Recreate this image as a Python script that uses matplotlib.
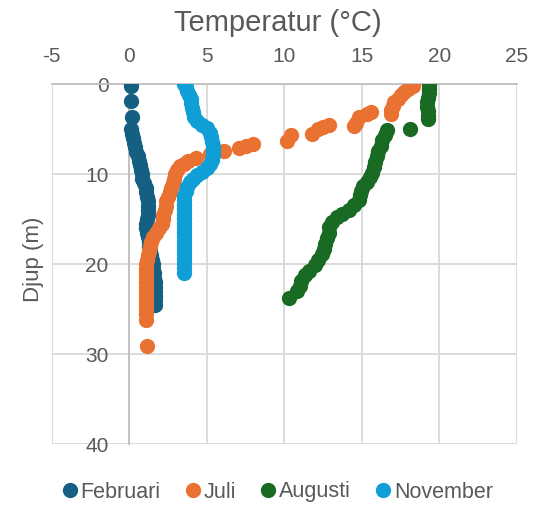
import matplotlib
matplotlib.use("Agg")
import matplotlib.pyplot as plt

plt.rcParams['font.family'] = ['Liberation Sans', 'DejaVu Sans']
plt.rcParams['axes.unicode_minus'] = False

# ---- data (depth m, temperature °C) ----
feb_depth = [0.2, 1.9, 3.6, 5.0, 5.5, 6.0, 6.5, 7.0, 7.5, 8.0, 8.5, 9.0, 9.5, 10.0,
             10.5, 11.0, 11.5, 12.0, 12.5, 13.0, 13.5, 14.0, 14.5, 15.0, 15.5, 16.0,
             16.5, 17.0, 17.5, 18.0, 18.5, 19.0, 19.5, 20.0, 20.5, 21.0, 21.5, 22.0,
             22.5, 23.0, 23.5, 24.0, 24.5]
feb_temp = [0.1, 0.1, 0.15, 0.1, 0.2, 0.25, 0.3, 0.4, 0.45, 0.55, 0.6, 0.7, 0.75, 0.8,
            0.85, 0.95, 1.05, 1.1, 1.15, 1.2, 1.2, 1.2, 1.2, 1.15, 1.1, 1.1,
            1.15, 1.2, 1.25, 1.3, 1.35, 1.4, 1.45, 1.5, 1.55, 1.6, 1.6, 1.65,
            1.65, 1.65, 1.65, 1.65, 1.65]

jul_depth = [0.2, 0.5, 0.8, 1.2, 1.6, 2.0, 2.4, 2.8, 3.3, 3.1, 3.3, 3.6, 4.3, 4.6,
             4.5, 4.7, 5.0, 5.5, 5.6, 6.3, 6.6, 6.9, 7.1, 7.4, 7.7, 8.2, 8.5, 8.8,
             9.1, 9.5, 10.0, 10.5, 11.0, 11.5, 12.0, 12.5, 13.0, 13.5, 14.0, 14.5,
             15.0, 15.5, 16.0, 16.5, 17.0, 17.5, 18.0, 18.5, 19.0, 19.5, 20.0, 20.5,
             21.0, 21.5, 22.0, 22.5, 23.0, 23.5, 24.0, 24.5, 25.0, 25.5, 26.2, 29.1]
jul_temp = [18.3, 18.0, 17.7, 17.5, 17.3, 17.1, 17.0, 16.9, 16.85, 15.6, 15.3, 14.8, 14.6, 14.5,
            12.9, 12.5, 12.2, 11.8, 10.4, 10.2, 8.0, 7.5, 7.1, 6.1, 5.2, 4.3, 3.8, 3.5,
            3.3, 3.1, 2.95, 2.9, 2.8, 2.7, 2.6, 2.5, 2.4, 2.35, 2.3, 2.2,
            2.15, 2.1, 1.9, 1.7, 1.5, 1.4, 1.35, 1.3, 1.2, 1.15, 1.1, 1.1,
            1.1, 1.1, 1.1, 1.1, 1.1, 1.1, 1.1, 1.1, 1.1, 1.1, 1.1, 1.15]

aug_depth = [0.1, 0.5, 1.0, 1.5, 2.0, 2.5, 3.0, 3.5, 3.9, 5.0, 5.1, 5.6, 6.2, 6.8,
             7.4, 8.0, 8.6, 9.2, 9.8, 10.3, 10.8, 11.3, 11.8, 12.3, 12.8, 13.4, 14.0,
             14.4, 14.7, 15.3, 15.9, 16.5, 17.1, 17.7, 18.3, 18.8, 19.5, 20.1, 20.7,
             21.2, 21.8, 22.4, 23.0, 23.7]
aug_temp = [19.3, 19.3, 19.3, 19.25, 19.2, 19.2, 19.25, 19.25, 19.25, 18.1, 16.6, 16.5, 16.3, 16.2,
            16.05, 15.95, 15.85, 15.8, 15.65, 15.55, 15.3, 15.1, 14.95, 14.85, 14.8, 14.5, 14.15,
            13.7, 13.4, 13.1, 12.9, 12.85, 12.75, 12.65, 12.55, 12.4, 12.2, 12.0, 11.6,
            11.3, 11.1, 11.0, 10.8, 10.3]

nov_depth = [0.0, 0.3, 0.7, 1.2, 1.6, 2.1, 2.6, 3.1, 3.6, 4.1, 4.5, 4.9, 5.4, 5.9,
             6.4, 6.9, 7.4, 7.9, 8.4, 8.9, 9.3, 9.7, 10.1, 10.5, 10.9, 11.4, 11.9,
             12.4, 12.9, 13.4, 13.9, 14.4, 14.9, 15.4, 15.9, 16.4, 16.9, 17.4, 17.9,
             18.4, 18.9, 19.4, 19.9, 20.4, 21.0]
nov_temp = [3.5, 3.65, 3.75, 3.85, 3.95, 4.0, 4.05, 4.1, 4.2, 4.4, 4.7, 5.0, 5.2, 5.3,
            5.35, 5.4, 5.4, 5.4, 5.35, 5.2, 5.0, 4.7, 4.4, 4.1, 3.9, 3.75, 3.65,
            3.55, 3.5, 3.5, 3.5, 3.5, 3.5, 3.5, 3.5, 3.5, 3.5, 3.5, 3.5,
            3.5, 3.5, 3.5, 3.5, 3.5, 3.5]

series = [("Februari", feb_temp, feb_depth, "#156082"),
          ("Juli", jul_temp, jul_depth, "#E97132"),
          ("Augusti", aug_temp, aug_depth, "#196B24"),
          ("November", nov_temp, nov_depth, "#0F9ED5")]

x_ticks = [-5, 0, 5, 10, 15, 20, 25]
y_ticks = [0, 10, 20, 30, 40]

W, H = 534, 509
fig = plt.figure(figsize=(W / 100, H / 100), dpi=100)
ax = fig.add_axes([51.7 / W, 1 - 444.3 / H, (517 - 51.7) / W, (444.3 - 84.3) / H])

txt = "#595959"
grid = "#D9D9D9"
axis_c = "#BFBFBF"

for name, t, d, c in series:
    ax.plot(t, d, linestyle="none", marker="o", markersize=11, color=c,
            markeredgewidth=0, label=name, zorder=3)

ax.set_xlim(-5, 25)
ax.set_ylim(40, 0)
ax.set_xticks(x_ticks)
ax.set_yticks(y_ticks)
ax.xaxis.tick_top()
ax.grid(True, color=grid, linewidth=1.3, zorder=0)
ax.set_axisbelow(True)

for s in ["right", "bottom"]:
    ax.spines[s].set_visible(False)
ax.spines["left"].set_position(("data", 0))
ax.spines["left"].set_color(axis_c)
ax.spines["left"].set_linewidth(1.3)
ax.spines["top"].set_color(axis_c)
ax.spines["top"].set_linewidth(1.3)
ax.tick_params(axis="x", length=0, pad=13, labelsize=15, labelcolor=txt)
ax.tick_params(axis="y", length=0, pad=15, labelsize=15, labelcolor=txt)

fig.text(278 / W, 1 - 23 / H, "Temperatur (°C)", ha="center", va="center",
         fontsize=21, color=txt)
fig.text(34 / W, 1 - 259.5 / H, "Djup (m)", ha="center", va="center",
         rotation=90, fontsize=16, color=txt)

handles, labels = ax.get_legend_handles_labels()
leg = fig.legend(handles, labels, loc="center", bbox_to_anchor=(275 / W, 1 - 492 / H),
                 ncol=4, frameon=False, fontsize=15.5, handletextpad=-0.1,
                 columnspacing=0.9, handlelength=1.2, labelcolor=txt,
                 borderaxespad=0, borderpad=0)

fig.savefig("out.png", dpi=100)
